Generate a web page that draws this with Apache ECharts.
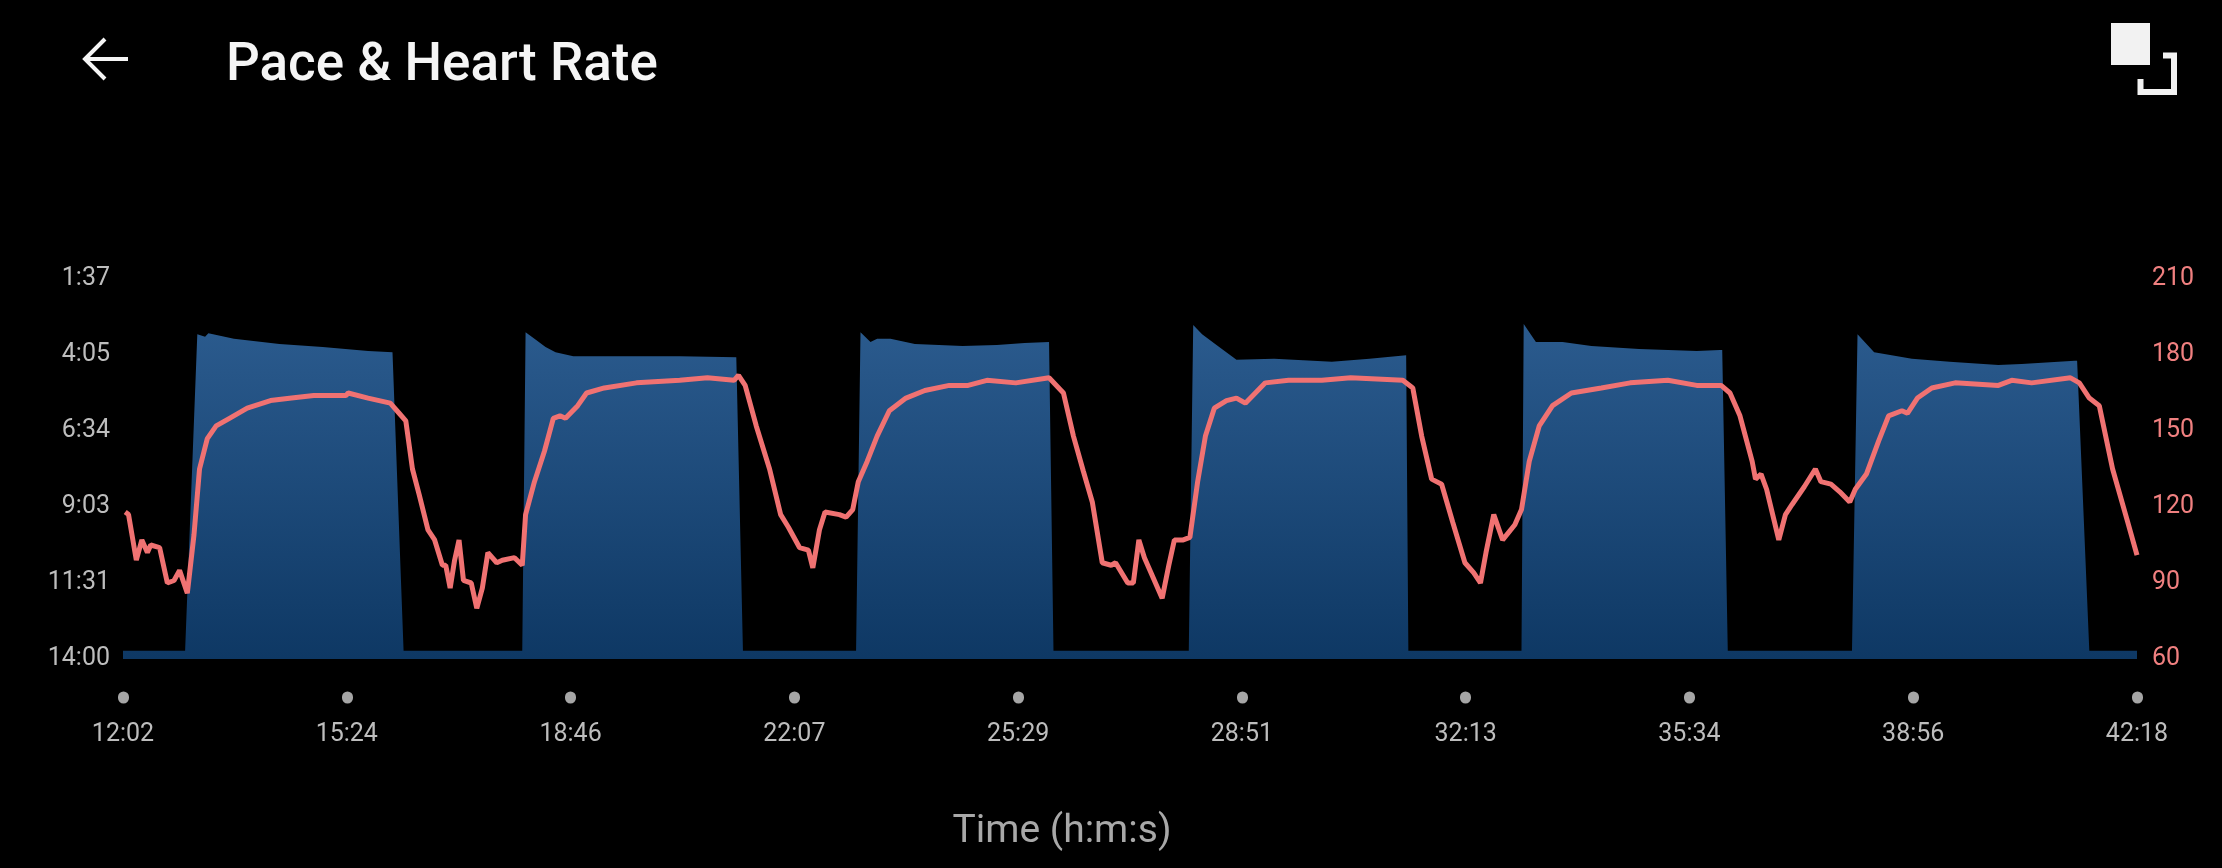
<!DOCTYPE html>
<html>
<head>
<meta charset="utf-8">
<title>Pace & Heart Rate</title>
<script src="https://cdn.jsdelivr.net/npm/echarts@6/dist/echarts.min.js"></script>
<style>
  html, body { margin: 0; padding: 0; background: #000; }
  #main { width: 2222px; height: 868px; }
</style>
</head>
<body>
<div id="main"></div>
<script>
// time axis labels (mm:ss of the session), evenly spaced
var timeTickLabels = ['12:02', '15:24', '18:46', '22:07', '25:29', '28:51', '32:13', '35:34', '38:56', '42:18'];
// pace axis labels, top to bottom (min/km)
var paceTickLabels = ['1:37', '4:05', '6:34', '9:03', '11:31', '14:00'];

// pace: time in seconds, pace in seconds per km
var paceTimes = [722, 778, 789, 796, 799, 822, 863, 902, 943, 965, 975,
  1082, 1085, 1093, 1103, 1112, 1128, 1224, 1275, 1281,
  1383, 1387, 1396, 1402, 1414, 1436, 1479, 1510, 1535, 1557, 1561,
  1683, 1687, 1695, 1708, 1726, 1760, 1812, 1846, 1879, 1881,
  1983, 1985, 1996, 2020, 2046, 2089, 2141, 2162, 2164, 2169,
  2281, 2286, 2301, 2335, 2369, 2413, 2434, 2482, 2484, 2495, 2538];
var paceSecs = [824, 824, 205, 210, 203, 214, 224, 230, 238, 240, 824,
  824, 201, 214, 230, 240, 248, 248, 250, 824,
  824, 201, 220, 214, 214, 224, 228, 226, 222, 220, 824,
  824, 187, 205, 226, 255, 253, 259, 253, 246, 824,
  824, 185, 220, 220, 228, 234, 238, 236, 236, 824,
  824, 205, 240, 253, 259, 265, 263, 257, 257, 824, 824];

// heart rate: time in seconds, bpm
var hrTimes = [724, 727, 734, 739, 744, 747, 755, 762, 768, 773, 780, 786, 791, 798, 806, 818, 834, 855, 874, 894,
  923, 925, 943, 963, 971, 977, 983, 989, 997, 1003, 1010, 1013, 1017, 1021, 1025, 1029, 1036, 1041, 1046, 1051,
  1059, 1064, 1075, 1082, 1085, 1093, 1102, 1110, 1116, 1121, 1132, 1140, 1156, 1185, 1224, 1249, 1273, 1277, 1283, 1293,
  1305, 1315, 1322, 1332, 1340, 1344, 1350, 1355, 1368, 1374, 1380, 1385, 1393, 1402, 1413, 1428, 1445, 1467, 1484, 1501,
  1527, 1557, 1570, 1579, 1588, 1596, 1605, 1613, 1617, 1628, 1633, 1638, 1643, 1659, 1665, 1670, 1678, 1684, 1691, 1698,
  1706, 1717, 1726, 1734, 1743, 1752, 1773, 1803, 1829, 1876, 1885, 1893, 1902, 1911, 1921, 1932, 1940, 1946, 1951, 1958,
  1966, 1977, 1983, 1990, 1999, 2011, 2028, 2055, 2081, 2115, 2141, 2163, 2171, 2180, 2191, 2194, 2199, 2204, 2215, 2221,
  2227, 2238, 2248, 2253, 2262, 2270, 2279, 2284, 2294, 2305, 2314, 2326, 2331, 2340, 2353, 2374, 2413, 2425, 2443, 2478,
  2486, 2495, 2504, 2516, 2529, 2538];
var hrBpm = [118, 117, 99, 107, 102, 105, 104, 90, 91, 95, 86, 109, 135, 147, 152, 155, 159, 162, 163, 164,
  164, 165, 163, 161, 157, 154, 135, 125, 111, 107, 97, 97, 88, 99, 107, 91, 90, 80, 88, 102,
  98, 99, 100, 97, 117, 130, 142, 155, 156, 155, 160, 165, 167, 169, 170, 171, 170, 172, 168, 152,
  135, 117, 112, 104, 103, 96, 111, 118, 117, 116, 119, 130, 138, 148, 158, 163, 166, 168, 168, 170,
  169, 171, 165, 148, 134, 122, 98, 97, 98, 90, 90, 107, 100, 84, 97, 107, 107, 108, 130, 148,
  159, 162, 163, 161, 165, 169, 170, 170, 171, 170, 167, 148, 131, 129, 114, 98, 94, 90, 102, 117,
  107, 113, 119, 138, 152, 160, 165, 167, 169, 170, 168, 168, 165, 156, 138, 131, 133, 127, 107, 117,
  121, 128, 135, 130, 129, 126, 122, 127, 133, 146, 156, 158, 157, 163, 167, 169, 168, 170, 169, 171,
  169, 163, 160, 135, 115, 101];

var paceData = paceTimes.map(function (t, i) { return [t, paceSecs[i]]; });
var hrData = hrTimes.map(function (t, i) { return [t, hrBpm[i]]; });

var myChart = echarts.init(document.getElementById('main'), null, { renderer: 'canvas' });

var option = {
  backgroundColor: '#000',
  animation: false,
  textStyle: { fontFamily: 'Roboto' },
  title: {
    text: 'Pace & Heart Rate',
    left: 221,
    top: 35,
    textStyle: { color: '#f5f5f5', fontSize: 53, fontWeight: 500, fontFamily: 'Roboto' }
  },
  graphic: [
    // back arrow
    {
      type: 'polyline',
      shape: { points: [[105, 39], [85, 59], [105, 79]] },
      style: { stroke: '#f5f5f5', lineWidth: 4, fill: null }
    },
    {
      type: 'line',
      shape: { x1: 86, y1: 59, x2: 128, y2: 59 },
      style: { stroke: '#f5f5f5', lineWidth: 4 }
    },
    // fullscreen icon
    {
      type: 'rect',
      shape: { x: 2111, y: 23, width: 39, height: 42 },
      style: { fill: '#f2f2f2' }
    },
    {
      type: 'polyline',
      shape: { points: [[2163, 55.5], [2174, 55.5], [2174, 92], [2140.5, 92], [2140.5, 79]] },
      style: { stroke: '#f2f2f2', lineWidth: 6, fill: null }
    }
  ],
  grid: {
    left: 123,
    right: 85,
    top: 279,
    bottom: 209,
    outerBoundsMode: 'none'
  },
  xAxis: [
    {
      type: 'value',
      min: 722,
      max: 2538,
      name: 'Time (h:m:s)',
      nameLocation: 'middle',
      nameGap: 154,
      nameTextStyle: { color: '#a8a8a8', fontSize: 39, fontFamily: 'Roboto', padding: [0, 136, 0, 0] },
      axisLine: { show: false },
      axisTick: { show: false },
      axisLabel: { show: false },
      splitLine: { show: false }
    },
    {
      type: 'category',
      data: timeTickLabels,
      boundaryGap: false,
      position: 'bottom',
      offset: 38,
      axisLine: { show: false },
      axisTick: { show: true, length: 1, lineStyle: { color: '#a6a6a6', width: 11, cap: 'round' } },
      axisLabel: { color: '#bdbdbd', fontSize: 25, margin: 25, fontFamily: 'Roboto' },
      splitLine: { show: false }
    }
  ],
  yAxis: [
    {
      // pace, seconds per km (hidden, drawn by the label axis below)
      type: 'value',
      min: 97,
      max: 840,
      inverse: true,
      show: false,
      splitLine: { show: false }
    },
    {
      type: 'value',
      position: 'right',
      min: 60,
      max: 210,
      interval: 30,
      axisLine: { show: false },
      axisTick: { show: false },
      splitLine: { show: false },
      axisLabel: { color: '#f08080', fontSize: 25, margin: 15, fontFamily: 'Roboto', padding: [3, 0, 0, 0] }
    },
    {
      type: 'category',
      position: 'left',
      data: paceTickLabels,
      inverse: true,
      boundaryGap: false,
      axisLine: { show: false },
      axisTick: { show: false },
      splitLine: { show: false },
      axisLabel: { color: '#bdbdbd', fontSize: 25, margin: 13, fontFamily: 'Roboto', padding: [3, 0, 0, 0] }
    }
  ],
  series: [
    {
      name: 'Pace',
      type: 'line',
      xAxisIndex: 0,
      yAxisIndex: 0,
      data: paceData,
      symbol: 'none',
      lineStyle: { width: 0 },
      areaStyle: {
        origin: 'end',
        opacity: 1,
        color: new echarts.graphic.LinearGradient(0, 0, 0, 1, [
          { offset: 0, color: '#2b5b8e' },
          { offset: 1, color: '#0e3864' }
        ])
      },
      z: 2
    },
    {
      name: 'Heart Rate',
      type: 'line',
      xAxisIndex: 0,
      yAxisIndex: 1,
      data: hrData,
      symbol: 'none',
      lineStyle: { color: '#f07272', width: 5 },
      z: 3
    }
  ]
};

myChart.setOption(option);
</script>
</body>
</html>
